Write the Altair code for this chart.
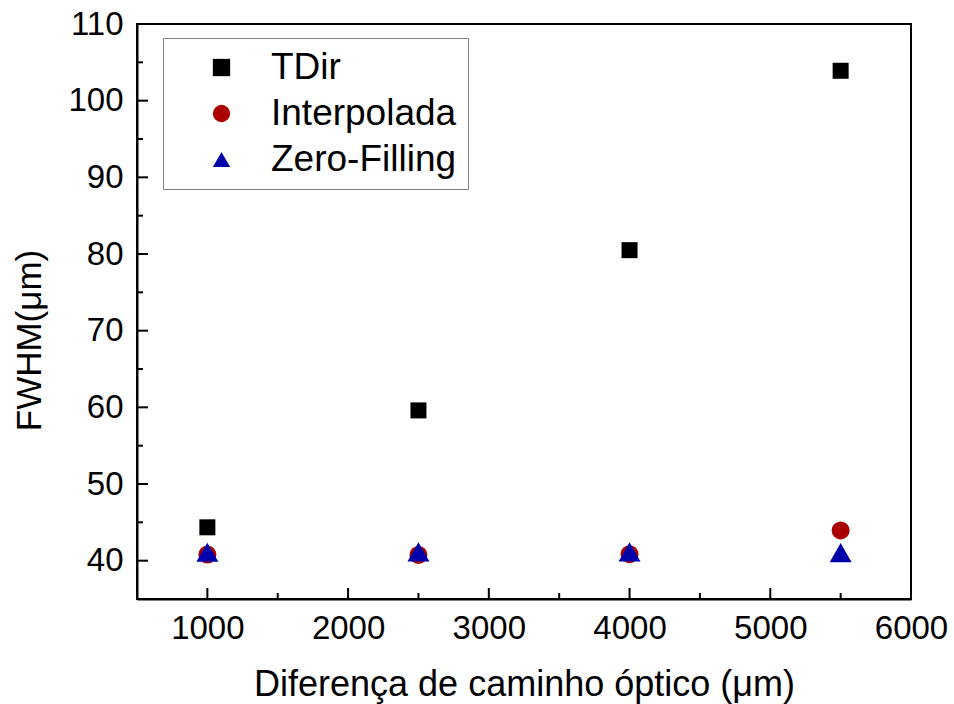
import altair as alt
import pandas as pd

# ---- data ----
x_values = [1000, 2500, 4000, 5500]
tdir = [44.35, 59.6, 80.5, 103.9]
interpolada = [40.8, 40.75, 40.85, 43.95]
zero_filling = [41.1, 41.15, 41.15, 41.05]

series_names = ["TDir", "Interpolada", "Zero-Filling"]
series_colors = ["#000000", "#AA0000", "#0000AA"]
series_shapes = ["square", "circle", "triangle-up"]
series_sizes = [256, 324, 484]

x_major = [1000, 2000, 3000, 4000, 5000, 6000]
x_minor = [1500, 2500, 3500, 4500, 5500]
y_major = [40, 50, 60, 70, 80, 90, 100, 110]
y_minor = [45, 55, 65, 75, 85, 95, 105]

rows = []
for name, vals, sz in zip(series_names, [tdir, interpolada, zero_filling], series_sizes):
    for xv, yv in zip(x_values, vals):
        rows.append({"x": xv, "y": yv, "series": name, "sz": sz})
df = pd.DataFrame(rows)

W, H = 774, 575
FONT = "Liberation Sans"

xscale = alt.Scale(domain=[500, 6000], nice=False, zero=False)
yscale = alt.Scale(domain=[35, 110], nice=False, zero=False)

x_axis = alt.Axis(
    orient="bottom", values=x_major, format="d", ticks=False, tickSize=0,
    domain=True, domainColor="black", domainWidth=2, grid=False,
    labelFontSize=33, labelFont=FONT, labelColor="black", labelPadding=13,
    labelFlush=False, labelOverlap=False,
    title="Diferença de caminho óptico (μm)", titleFontSize=36, titleFont=FONT,
    titleFontWeight="normal", titleColor="black", titleBaseline="alphabetic", titleY=96)
y_axis = alt.Axis(
    orient="left", values=y_major, format="d", ticks=False, tickSize=0,
    domain=True, domainColor="black", domainWidth=2, grid=False,
    labelFontSize=33, labelFont=FONT, labelColor="black", labelPadding=14,
    labelFlush=False, labelOverlap=False,
    title="FWHM(μm)", titleFontSize=35, titleFont=FONT, titleFontWeight="normal",
    titleColor="black", titleAngle=270, titleAlign="center", titleBaseline="alphabetic",
    titleX=-97, titleY=316)

points = alt.Chart(df).mark_point(filled=True, opacity=1, strokeWidth=0).encode(
    x=alt.X("x:Q", scale=xscale, axis=x_axis),
    y=alt.Y("y:Q", scale=yscale, axis=y_axis),
    color=alt.Color("series:N", scale=alt.Scale(domain=series_names, range=series_colors),
                    legend=alt.Legend(title=None)),
    shape=alt.Shape("series:N", scale=alt.Scale(domain=series_names, range=series_shapes),
                    legend=alt.Legend(title=None)),
    size=alt.Size("sz:Q", scale=None),
)


def x_ticks(values, length):
    d = pd.DataFrame({"x": values})
    return alt.Chart(d).mark_rule(color="black", strokeWidth=2).encode(
        x=alt.X("x:Q", scale=xscale, axis=x_axis),
        y=alt.value(H), y2=alt.value(H - length))


def y_ticks(values, length):
    d = pd.DataFrame({"y": values})
    return alt.Chart(d).mark_rule(color="black", strokeWidth=2).encode(
        y=alt.Y("y:Q", scale=yscale, axis=y_axis),
        x=alt.value(0), x2=alt.value(length))


chart = alt.layer(
    x_ticks(x_major, 11),
    x_ticks(x_minor, 6),
    y_ticks(y_major, 11),
    y_ticks(y_minor, 6),
    points,
).properties(
    width=W, height=H,
    padding={"left": 137, "top": 24, "right": 954 - 137 - W, "bottom": 704 - 24 - H},
    autosize=alt.AutoSizeParams(type="none"),
).configure(
    font=FONT
).configure_view(
    stroke="black", strokeWidth=2
).configure_legend(
    orient="none", legendX=26, legendY=14, padding=11,
    strokeColor="#808080", strokeWidth=1, fillColor="white",
    labelFontSize=37, labelFont=FONT, labelColor="black", labelLimit=500,
    symbolSize=300, symbolStrokeWidth=0, symbolOffset=29, labelOffset=31, rowPadding=8,
)

chart.save("out.html", embed_options={"renderer": "svg", "actions": False})
